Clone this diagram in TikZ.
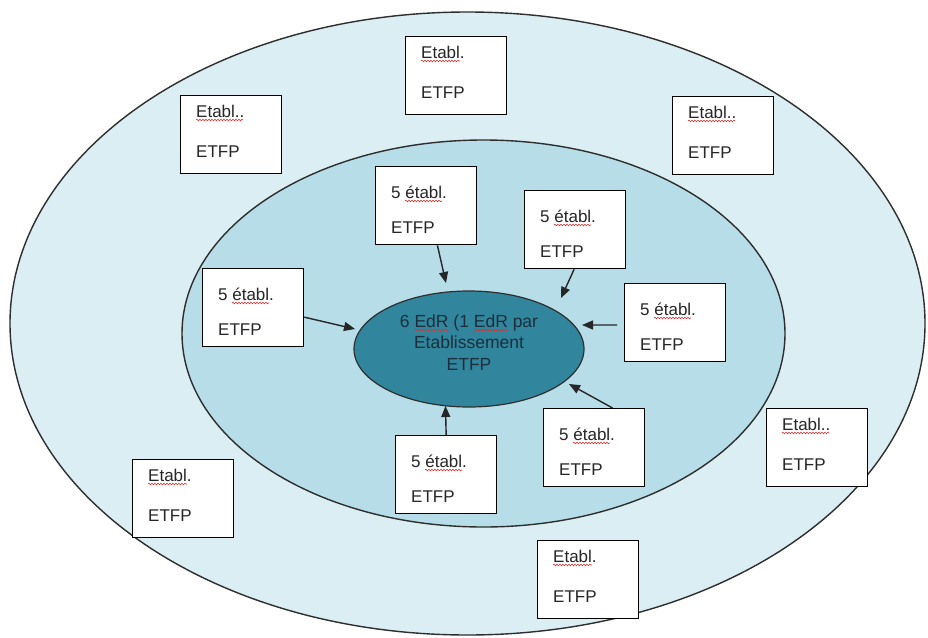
\documentclass[tikz,border=0pt]{standalone}
\usepackage{fontspec}
\setmainfont{Liberation Sans}
\usetikzlibrary{calc,arrows.meta,decorations.pathmorphing,shapes.geometric}

\definecolor{outerfill}{HTML}{DAEEF3}
\definecolor{innerfill}{HTML}{B7DDE8}
\definecolor{corefill}{HTML}{31859C}
\definecolor{rimline}{HTML}{2E2E2E}
\definecolor{coretext}{HTML}{1B2F3C}
\definecolor{spellred}{HTML}{E03030}

\begin{document}
\begin{tikzpicture}[x=1pt,y=-1pt,
  ring/.style={ellipse, draw=rimline, line width=1.4pt, inner sep=0pt},
  unitbox/.style={rectangle, draw=black, line width=1.3pt, fill=white,
    minimum width=101pt, minimum height=78pt, inner sep=0pt, anchor=north west},
  boxlabel/.style={anchor=base west, inner sep=0pt,
    font=\fontsize{17}{20}\selectfont, text=black!85},
  corelabel/.style={anchor=base, inner sep=0pt,
    font=\fontsize{17.5}{20}\selectfont, text=coretext},
  feed/.style={draw=black!85, line width=1.4pt,
    -{Triangle[length=11pt,width=9pt]}},
  wavy/.style={draw=spellred, line width=0.6pt, decorate,
    decoration={snake, amplitude=0.8pt, segment length=3pt}}
]
% page frame
\useasboundingbox (0,0) rectangle (928,637);
\fill[white] (0,0) rectangle (928,637);

% the three nested rings
\node[ring, fill=outerfill, minimum width=915pt, minimum height=623pt] (outer) at (467.5,323.5) {};
\node[ring, fill=innerfill, minimum width=603pt, minimum height=387pt] (inner) at (483.5,333.5) {};
\node[ring, fill=corefill, line width=1.2pt, minimum width=230pt, minimum height=116pt] (core) at (469,349) {};

% centre text
\node[corelabel] (core1) at (469,327) {6 EdR (1 EdR par};
\node[corelabel] (core2) at (469,348.5) {Etablissement};
\node[corelabel] (core3) at (469,370) {ETFP};
\draw[wavy] ($(core1.base west)+(14.6,3)$) -- ++(34,0);
\draw[wavy] ($(core1.base west)+(73.9,3)$) -- ++(34,0);

% establishments in the outer ring
\foreach \n/\x/\y/\t/\w in {o1/405/36/Etabl./39, o2/180/95/Etabl../47, o3/672/96/Etabl../47,
                            o4/766/408/Etabl../47, o5/132/459/Etabl./39, o6/537/540/Etabl./39}{
  \node[unitbox] (\n) at (\x,\y) {};
  \node[boxlabel] (\n a) at ($(\n.north west)+(16,22)$) {\t};
  \node[boxlabel] (\n b) at ($(\n.north west)+(16,62)$) {ETFP};
  \draw[wavy] ($(\n a.base west)+(0,3)$) -- ++(\w,0);
}

% groups of five in the inner ring
\foreach \n/\x/\y in {i1/375/166, i2/524/190, i3/202/268, i4/624/283, i5/543/408, i6/395/435}{
  \node[unitbox] (\n) at (\x,\y) {};
  \node[boxlabel] (\n a) at ($(\n.north west)+(16,32)$) {5 établ.};
  \node[boxlabel] (\n b) at ($(\n.north west)+(16,67)$) {ETFP};
  \draw[wavy] ($(\n a.base west)+(14,3)$) -- ++(37,0);
}

% arrow tips near the central ellipse
\coordinate (tip1) at (446,283);
\coordinate (tip2) at (561,298);
\coordinate (tip3) at (355,329);
\coordinate (tip4) at (582,325);
\coordinate (tip5) at (569,384);
\coordinate (tip6) at (445.5,406);

\draw[feed] ($(i1.south west)!0.61!(i1.south east)$) -- (tip1);
\draw[feed] ($(i2.south west)!0.49!(i2.south east)$) -- (tip2);
\draw[feed] ($(i3.north east)!0.62!(i3.south east)$) -- (tip3);
\draw[feed, shorten <=7pt] ($(i4.north west)!0.53!(i4.south west)$) -- (tip4);
\draw[feed] ($(i5.north west)!0.68!(i5.north east)$) -- (tip5);
\draw[feed] ($(i6.north west)!0.5!(i6.north east)$) -- (tip6);
\end{tikzpicture}
\end{document}
